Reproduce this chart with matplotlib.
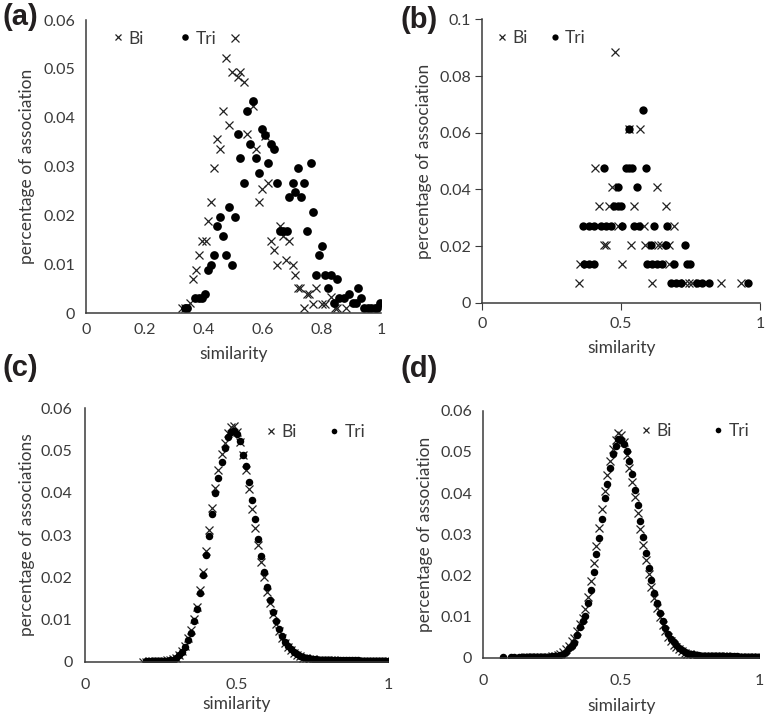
import matplotlib.pyplot as plt
from matplotlib.ticker import FuncFormatter

plt.rcParams['font.family'] = ['Lato', 'DejaVu Sans']

# ---- panel (a) ----
a_bi_x = [0.325, 0.334, 0.352, 0.362, 0.373, 0.383, 0.394, 0.406, 0.413, 0.425,
          0.434, 0.443, 0.454, 0.464, 0.475, 0.486, 0.495, 0.505, 0.516, 0.523,
          0.537, 0.546, 0.566, 0.577, 0.587, 0.598, 0.606, 0.617, 0.627, 0.638,
          0.649, 0.657, 0.669, 0.679, 0.688, 0.700, 0.709, 0.718, 0.726, 0.740,
          0.749, 0.757, 0.770, 0.780, 0.801, 0.810, 0.832, 0.843, 0.852, 0.881]
a_bi_y = [0.0010, 0.0010, 0.0021, 0.0069, 0.0089, 0.0118, 0.0148, 0.0148, 0.0188, 0.0227,
          0.0296, 0.0356, 0.0336, 0.0414, 0.0523, 0.0385, 0.0494, 0.0563, 0.0484, 0.0494,
          0.0474, 0.0366, 0.0424, 0.0336, 0.0227, 0.0255, 0.0362, 0.0267, 0.0148, 0.0129,
          0.0098, 0.0178, 0.0158, 0.0109, 0.0148, 0.0098, 0.0078, 0.0051, 0.0051, 0.0010,
          0.0040, 0.0039, 0.0018, 0.0051, 0.0018, 0.0018, 0.0033, 0.0010, 0.0010, 0.0010]
a_tri_x = [0.337, 0.342, 0.371, 0.382, 0.394, 0.403, 0.413, 0.423, 0.434, 0.443,
           0.455, 0.463, 0.474, 0.486, 0.495, 0.505, 0.514, 0.523, 0.537, 0.546,
           0.556, 0.566, 0.577, 0.585, 0.598, 0.608, 0.617, 0.627, 0.637, 0.648,
           0.657, 0.669, 0.680, 0.688, 0.700, 0.709, 0.718, 0.730, 0.740, 0.749,
           0.761, 0.770, 0.780, 0.789, 0.801, 0.810, 0.820, 0.832, 0.841, 0.852,
           0.858, 0.875, 0.892, 0.904, 0.915, 0.923, 0.932, 0.944, 0.955, 0.967,
           0.978, 0.987, 0.995]
a_tri_y = [0.0010, 0.0010, 0.0030, 0.0030, 0.0030, 0.0039, 0.0089, 0.0098, 0.0118, 0.0178,
           0.0197, 0.0158, 0.0118, 0.0218, 0.0098, 0.0197, 0.0366, 0.0317, 0.0267, 0.0414,
           0.0346, 0.0435, 0.0317, 0.0286, 0.0376, 0.0365, 0.0307, 0.0346, 0.0336, 0.0267,
           0.0168, 0.0168, 0.0168, 0.0237, 0.0267, 0.0247, 0.0296, 0.0237, 0.0267, 0.0168,
           0.0307, 0.0207, 0.0078, 0.0118, 0.0138, 0.0078, 0.0051, 0.0078, 0.0020, 0.0069,
           0.0030, 0.0030, 0.0039, 0.0020, 0.0020, 0.0051, 0.0030, 0.0010, 0.0010, 0.0010,
           0.0010, 0.0010, 0.0020]

# ---- panel (b) ----
b_bi_x = [0.479, 0.529, 0.569, 0.407, 0.467, 0.630, 0.419, 0.455, 0.547, 0.660,
          0.487, 0.582, 0.690, 0.437, 0.445, 0.535, 0.586, 0.634, 0.642, 0.672,
          0.352, 0.505, 0.672, 0.350, 0.612, 0.731, 0.743, 0.755, 0.859, 0.932]
b_bi_y = [0.0884, 0.0612, 0.0612, 0.0476, 0.0408, 0.0408, 0.0340, 0.0340, 0.0340, 0.0340,
          0.0272, 0.0272, 0.0272, 0.0204, 0.0204, 0.0204, 0.0204, 0.0204, 0.0204, 0.0204,
          0.0136, 0.0136, 0.0136, 0.0068, 0.0068, 0.0068, 0.0068, 0.0068, 0.0068, 0.0068]
b_tri_x = [0.579, 0.529, 0.439, 0.517, 0.529, 0.541, 0.588, 0.487, 0.558, 0.475,
           0.489, 0.501, 0.364, 0.385, 0.403, 0.427, 0.445, 0.463, 0.505, 0.547,
           0.564, 0.618, 0.666, 0.606, 0.660, 0.729, 0.368, 0.385, 0.403, 0.594,
           0.612, 0.630, 0.648, 0.690, 0.737, 0.749, 0.678, 0.696, 0.714, 0.773,
           0.791, 0.815, 0.958]
b_tri_y = [0.0680, 0.0612, 0.0476, 0.0476, 0.0476, 0.0476, 0.0476, 0.0408, 0.0408, 0.0340,
           0.0340, 0.0340, 0.0272, 0.0272, 0.0272, 0.0272, 0.0272, 0.0272, 0.0272, 0.0272,
           0.0272, 0.0272, 0.0272, 0.0204, 0.0204, 0.0204, 0.0136, 0.0136, 0.0136, 0.0136,
           0.0136, 0.0136, 0.0136, 0.0136, 0.0136, 0.0136, 0.0068, 0.0068, 0.0068, 0.0068,
           0.0068, 0.0068, 0.0068]

# ---- panel (c) ----
c_bi_x = [0.19, 0.20, 0.21, 0.22, 0.23, 0.24, 0.25, 0.26, 0.27, 0.28,
          0.29, 0.30, 0.31, 0.32, 0.33, 0.34, 0.35, 0.36, 0.37, 0.38,
          0.39, 0.40, 0.41, 0.42, 0.43, 0.44, 0.45, 0.46, 0.47, 0.48,
          0.49, 0.50, 0.51, 0.52, 0.53, 0.54, 0.55, 0.56, 0.57, 0.58,
          0.59, 0.60, 0.61, 0.62, 0.63, 0.64, 0.65, 0.66, 0.67, 0.68,
          0.69, 0.70, 0.71, 0.72, 0.73, 0.74, 0.75, 0.76, 0.77, 0.78,
          0.79, 0.80, 0.81, 0.82, 0.83, 0.84, 0.85, 0.86, 0.87, 0.88,
          0.89, 0.90, 0.91, 0.92, 0.93, 0.94, 0.95, 0.96, 0.97, 0.98,
          0.99, 1.00]
c_bi_y = [0.0000, 0.0000, 0.0001, 0.0001, 0.0001, 0.0001, 0.0002, 0.0002, 0.0003, 0.0004,
          0.0006, 0.0010, 0.0016, 0.0025, 0.0038, 0.0055, 0.0075, 0.0100, 0.0130, 0.0171,
          0.0213, 0.0262, 0.0312, 0.0363, 0.0412, 0.0454, 0.0493, 0.0519, 0.0541, 0.0556,
          0.0558, 0.0545, 0.0520, 0.0489, 0.0454, 0.0410, 0.0361, 0.0317, 0.0276, 0.0237,
          0.0201, 0.0166, 0.0138, 0.0112, 0.0090, 0.0072, 0.0057, 0.0045, 0.0035, 0.0027,
          0.0021, 0.0016, 0.0013, 0.0010, 0.0008, 0.0007, 0.0006, 0.0005, 0.0005, 0.0004,
          0.0004, 0.0003, 0.0003, 0.0003, 0.0002, 0.0002, 0.0002, 0.0002, 0.0002, 0.0002,
          0.0002, 0.0002, 0.0001, 0.0001, 0.0001, 0.0001, 0.0001, 0.0001, 0.0001, 0.0001,
          0.0001, 0.0001]
c_tri_x = c_bi_x[1:]
c_tri_y = [0.0001, 0.0001, 0.0001, 0.0001, 0.0001, 0.0001, 0.0001, 0.0002, 0.0003,
           0.0005, 0.0009, 0.0015, 0.0024, 0.0036, 0.0051, 0.0069, 0.0096, 0.0126, 0.0163,
           0.0205, 0.0253, 0.0298, 0.0350, 0.0399, 0.0436, 0.0472, 0.0505, 0.0533, 0.0545,
           0.0547, 0.0539, 0.0522, 0.0489, 0.0463, 0.0425, 0.0383, 0.0337, 0.0290, 0.0251,
           0.0212, 0.0178, 0.0146, 0.0118, 0.0096, 0.0077, 0.0061, 0.0047, 0.0037, 0.0029,
           0.0023, 0.0018, 0.0014, 0.0011, 0.0009, 0.0008, 0.0007, 0.0006, 0.0005, 0.0004,
           0.0004, 0.0004, 0.0004, 0.0004, 0.0003, 0.0003, 0.0003, 0.0003, 0.0003, 0.0003,
           0.0003, 0.0003, 0.0002, 0.0002, 0.0002, 0.0002, 0.0002, 0.0002, 0.0002, 0.0002,
           0.0002, 0.0002]

# ---- panel (d) ----
d_bi_x = [0.15, 0.16, 0.17, 0.18, 0.19, 0.20, 0.21, 0.22, 0.23, 0.24,
          0.25, 0.26, 0.27, 0.28, 0.29, 0.30, 0.31, 0.32, 0.33, 0.34,
          0.35, 0.36, 0.37, 0.38, 0.39, 0.40, 0.41, 0.42, 0.43, 0.44,
          0.45, 0.46, 0.47, 0.48, 0.49, 0.50, 0.51, 0.52, 0.53, 0.54,
          0.55, 0.56, 0.57, 0.58, 0.59, 0.60, 0.61, 0.62, 0.63, 0.64,
          0.65, 0.66, 0.67, 0.68, 0.69, 0.70, 0.71, 0.72, 0.73, 0.74,
          0.75, 0.76, 0.77, 0.78, 0.79, 0.80, 0.81, 0.82, 0.83, 0.84,
          0.85, 0.86, 0.87, 0.88, 0.89, 0.90, 0.91, 0.92, 0.93, 0.94,
          0.95, 0.96, 0.97, 0.98, 0.99, 1.00]
d_bi_y = [0.0001, 0.0001, 0.0001, 0.0001, 0.0001, 0.0001, 0.0001, 0.0001, 0.0001, 0.0002,
          0.0003, 0.0004, 0.0006, 0.0009, 0.0013, 0.0020, 0.0029, 0.0040, 0.0047, 0.0066,
          0.0082, 0.0096, 0.0118, 0.0148, 0.0186, 0.0230, 0.0272, 0.0314, 0.0362, 0.0405,
          0.0443, 0.0478, 0.0506, 0.0530, 0.0547, 0.0540, 0.0525, 0.0492, 0.0462, 0.0428,
          0.0390, 0.0352, 0.0313, 0.0275, 0.0237, 0.0204, 0.0172, 0.0144, 0.0120, 0.0098,
          0.0080, 0.0064, 0.0051, 0.0040, 0.0032, 0.0025, 0.0020, 0.0016, 0.0012, 0.0010,
          0.0008, 0.0006, 0.0005, 0.0004, 0.0004, 0.0004, 0.0004, 0.0003, 0.0003, 0.0003,
          0.0003, 0.0003, 0.0003, 0.0003, 0.0002, 0.0002, 0.0002, 0.0002, 0.0002, 0.0002,
          0.0002, 0.0002, 0.0002, 0.0001, 0.0001, 0.0001]
d_tri_x = [0.07, 0.10, 0.11, 0.13, 0.14] + d_bi_x
d_tri_y = [0.0001, 0.0001, 0.0001, 0.0001, 0.0001,
           0.0001, 0.0001, 0.0001, 0.0001, 0.0001, 0.0001, 0.0001, 0.0001, 0.0001, 0.0002,
           0.0003, 0.0004, 0.0005, 0.0007, 0.0010, 0.0015, 0.0023, 0.0029, 0.0036, 0.0055,
           0.0075, 0.0088, 0.0102, 0.0132, 0.0164, 0.0207, 0.0251, 0.0291, 0.0336, 0.0387,
           0.0422, 0.0460, 0.0494, 0.0514, 0.0531, 0.0530, 0.0519, 0.0503, 0.0479, 0.0446,
           0.0407, 0.0371, 0.0332, 0.0294, 0.0255, 0.0219, 0.0189, 0.0156, 0.0132, 0.0108,
           0.0090, 0.0071, 0.0058, 0.0046, 0.0037, 0.0030, 0.0024, 0.0019, 0.0015, 0.0012,
           0.0010, 0.0008, 0.0007, 0.0006, 0.0005, 0.0004, 0.0004, 0.0004, 0.0004, 0.0004,
           0.0004, 0.0003, 0.0003, 0.0003, 0.0003, 0.0003, 0.0003, 0.0003, 0.0002, 0.0002,
           0.0002, 0.0002, 0.0002, 0.0002, 0.0002, 0.0002]

txt = '#3a3a3a'
fmt = FuncFormatter(lambda v, p: '{:g}'.format(round(v, 3)))

fig = plt.figure(figsize=(7.66, 7.16), dpi=100)


def panel(rect, bx, by, tx, ty, ylim, yticks, xticks, ylabel, xlabel, ms,
          leg_anchor, colsp, tick_len, xpad, ypad, xlab_y, ylab_x):
    ax = fig.add_axes(rect)
    ax.plot(bx, by, ls='none', marker='x', color='#222222', ms=ms * 0.95, mew=0.9, label='Bi')
    ax.plot(tx, ty, ls='none', marker='o', color='black', ms=ms, mew=0, label='Tri')
    ax.set_xlim(0, 1)
    ax.set_ylim(*ylim)
    ax.set_xticks(xticks)
    ax.set_yticks(yticks)
    ax.xaxis.set_major_formatter(fmt)
    ax.yaxis.set_major_formatter(fmt)
    for s in ['top', 'right']:
        ax.spines[s].set_visible(False)
    for s in ['left', 'bottom']:
        ax.spines[s].set_color(txt)
        ax.spines[s].set_linewidth(1.1)
    ax.tick_params(axis='x', length=tick_len, color=txt, labelsize=11.5, labelcolor=txt, pad=xpad)
    ax.tick_params(axis='y', length=tick_len, color=txt, labelsize=11.5, labelcolor=txt, pad=ypad)
    ax.set_xlabel(xlabel, fontsize=12.5, color=txt, va='center')
    ax.set_ylabel(ylabel, fontsize=12.5, color=txt, va='center')
    ax.xaxis.set_label_coords(0.5, xlab_y)
    ax.yaxis.set_label_coords(ylab_x, 0.5)
    ax.legend(loc='center left', bbox_to_anchor=leg_anchor, ncol=2, frameon=False,
              fontsize=12.5, handlelength=0.5, handletextpad=0.35, columnspacing=colsp,
              borderpad=0, borderaxespad=0, markerscale=0.75, labelcolor=txt)
    return ax


panel([0.1123, 0.5628, 0.3851, 0.4092], a_bi_x, a_bi_y, a_tri_x, a_tri_y,
      (0, 0.06), [0, 0.01, 0.02, 0.03, 0.04, 0.05, 0.06], [0, 0.2, 0.4, 0.6, 0.8, 1],
      'percentage of association', 'similarity', 6.3,
      (0.095, 0.937), 2.1, 0, 7, 8, -0.14, -0.2)

panel([0.6296, 0.5772, 0.3625, 0.3958], b_bi_x, b_bi_y, b_tri_x, b_tri_y,
      (0, 0.1), [0, 0.02, 0.04, 0.06, 0.08, 0.1], [0, 0.5, 1],
      'percentage of association', 'similarity', 6.0,
      (0.055, 0.935), 1.3, 5, 5, 3, -0.16, -0.21)

panel([0.1110, 0.0758, 0.3960, 0.3539], c_bi_x, c_bi_y, c_tri_x, c_tri_y,
      (0, 0.06), [0, 0.01, 0.02, 0.03, 0.04, 0.05, 0.06], [0, 0.5, 1],
      'percentage of associations', 'similarity', 5.4,
      (0.6, 0.905), 1.9, 0, 12, 9, -0.167, -0.19)

panel([0.6309, 0.0814, 0.3600, 0.3450], d_bi_x, d_bi_y, d_tri_x, d_tri_y,
      (0, 0.06), [0, 0.01, 0.02, 0.03, 0.04, 0.05, 0.06], [0, 0.5, 1],
      'percentage of association', 'similairty', 5.4,
      (0.575, 0.918), 2.4, 0, 12, 8, -0.196, -0.212)

for lab, x, y in [('(a)', 20, 17), ('(b)', 419, 20), ('(c)', 20, 368), ('(d)', 419, 369)]:
    fig.text(x / 766, 1 - y / 716, lab, fontsize=21, fontweight='bold',
             family='Liberation Sans', ha='center', va='center', color='#231f20')

fig.savefig('out.png', dpi=100)
